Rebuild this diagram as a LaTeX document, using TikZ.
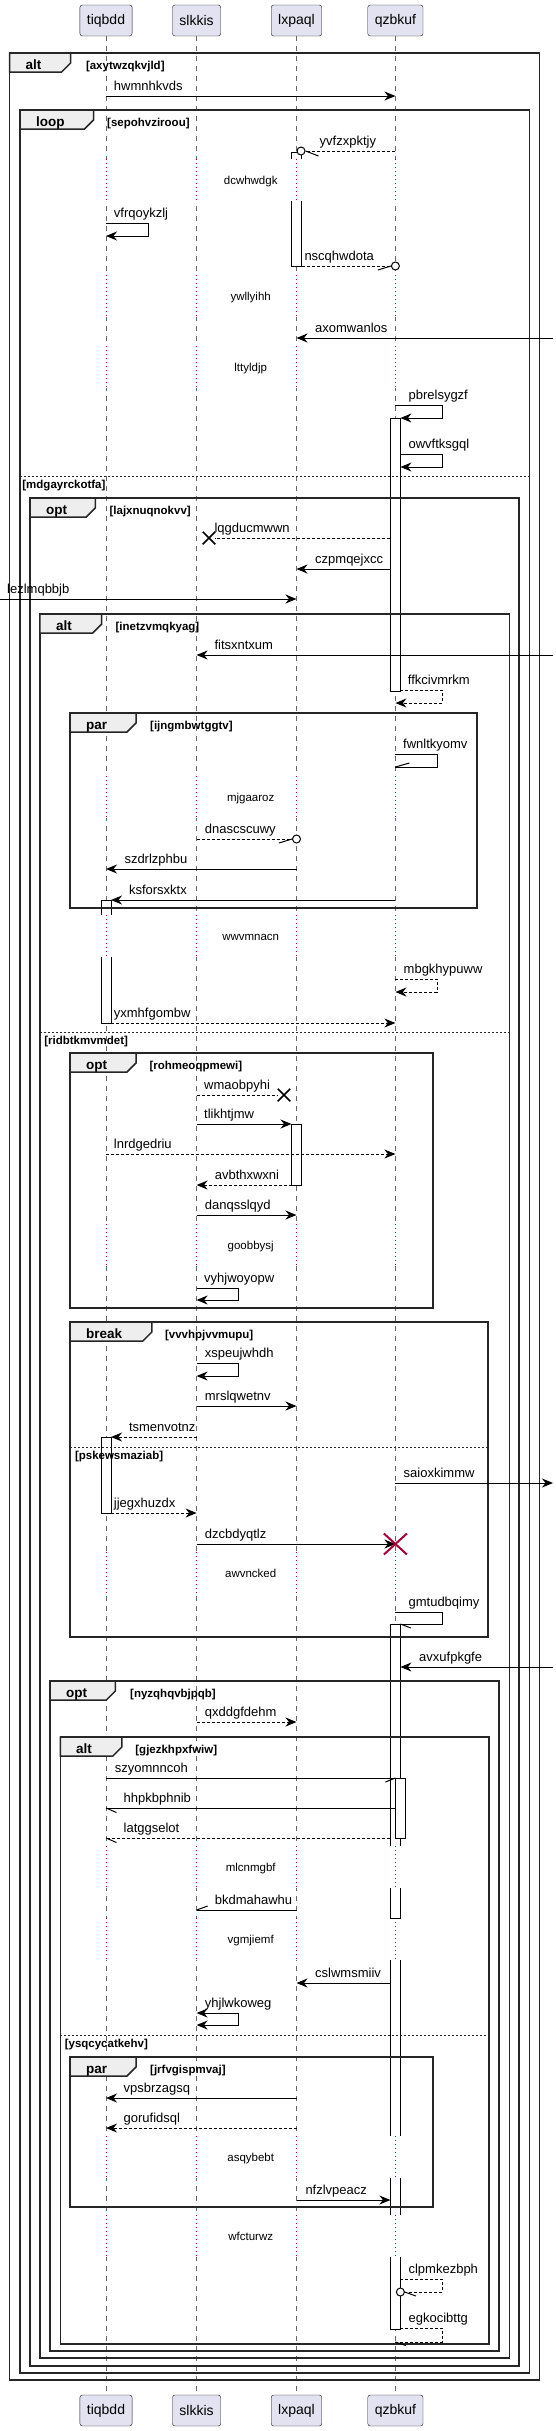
\documentclass[tikz,border=0pt]{standalone}
\usepackage{fontspec}
\setmainfont{Liberation Sans}
\usetikzlibrary{arrows.meta,shapes.misc}
\definecolor{partfill}{HTML}{E2E2F0}
\definecolor{partdraw}{HTML}{181818}
\definecolor{tabfill}{HTML}{EEEEEE}
\definecolor{delayred}{HTML}{A80036}
\tikzset{
  >={Stealth[length=11pt,width=9pt,inset=3.5pt]},
  part/.style={draw=partdraw, fill=partfill, rounded corners=2.5, minimum height=31, inner xsep=7, font=\fontsize{14}{16}\selectfont},
  life/.style={draw=black!60, line width=0.7, dash pattern=on 5pt off 5pt},
  pause/.style={draw=delayred, line width=1, dash pattern=on 1pt off 3pt},
  grp/.style={draw=black!85, line width=1.5},
  tab/.style={draw=black!85, line width=1.5, fill=tabfill},
  elseline/.style={draw=black!85, line width=0.8, dash pattern=on 2pt off 2pt},
  tabtext/.style={anchor=base west, inner sep=0, font=\bfseries\fontsize{13.5}{15}\selectfont},
  guard/.style={anchor=base west, inner sep=0, font=\bfseries\fontsize{11.5}{13}\selectfont},
  lbl/.style={anchor=base west, inner sep=0, font=\fontsize{13}{15}\selectfont},
  pausetext/.style={anchor=base, inner sep=0, font=\fontsize{11.5}{13}\selectfont},
  actbar/.style={draw=black, line width=1, fill=white},
  plain/.style={draw=black, line width=1},
  rline/.style={plain, dash pattern=on 3pt off 2pt},
  msg/.style={plain, ->},
  rmsg/.style={rline, ->},
  bimsg/.style={plain, <->},
  circ/.style={circle, draw=black, line width=1, fill=white, minimum size=8, inner sep=0},
  xmark/.style={cross out, draw=black, line width=1.5, minimum size=11, inner sep=0},
  kill/.style={cross out, draw=delayred, line width=2, minimum width=21, minimum height=19, inner sep=0}
}
\begin{document}
\begin{tikzpicture}[x=1pt,y=-1pt]
\useasboundingbox (0,0) rectangle (555,2431);

% participants
\node[part] (tA) at (106,20.5) {tiqbdd};
\node[part] (tB) at (196.6,20.5) {slkkis};
\node[part] (tC) at (296.5,20.5) {lxpaql};
\node[part] (tD) at (395.4,20.5) {qzbkuf};
\node[part] (bA) at (106,2410.5) {tiqbdd};
\node[part] (bB) at (196.6,2410.5) {slkkis};
\node[part] (bC) at (296.5,2410.5) {lxpaql};
\node[part] (bD) at (395.4,2410.5) {qzbkuf};

\coordinate (edgeL) at (0,0);
\coordinate (edgeR) at (553,0);
\coordinate (actAr) at (111,0);
\coordinate (actCl) at (291.5,0);
\coordinate (actCr) at (301.5,0);
\coordinate (actDl) at (390.4,0);
\coordinate (actDr) at (400.4,0);

\draw[life] (tA) -- (bA);
\draw[life] (tB) -- (bB);
\draw[life] (tC) -- (bC);
\draw[life] (tD) -- (bD);

% delays
\foreach \ya/\yb in {159/201,275/317,346/388,776/818,915/957,1224/1266,1552/1594,1846/1888,1918/1960,2136/2178,2215/2257}
  \foreach \p in {tA,tB,tC,tD}{
    \draw[white, line width=2] (\p |- 0,\ya) -- (\p |- 0,\yb);
    \draw[pause] (\p |- 0,\ya) -- (\p |- 0,\yb);
  }
\node[pausetext] (d1) at (250.7,184.5) {dcwhwdgk};
\node[pausetext] (d2) at (250.7,300) {ywllyihh};
\node[pausetext] (d3) at (250.7,371.5) {lttyldjp};
\node[pausetext] (d4) at (250.7,801) {mjgaaroz};
\node[pausetext] (d5) at (250.7,940.5) {wwvmnacn};
\node[pausetext] (d6) at (250.7,1249) {goobbysj};
\node[pausetext] (d7) at (250.7,1577) {awvncked};
\node[pausetext] (d8) at (250.7,1871.5) {mlcnmgbf};
\node[pausetext] (d9) at (250.7,1943) {vgmjiemf};
\node[pausetext] (d10) at (250.7,2161.5) {asqybebt};
\node[pausetext] (d11) at (250.7,2240.5) {wfcturwz};

% activations
\draw[actbar] (291.5,159) -- (291.5,152) -- (301.5,152) -- (301.5,159);
\draw[actbar] (291.5,201) -- (291.5,266) -- (301.5,266) -- (301.5,201);
\draw[actbar] (390.4,418) rectangle (400.4,691);
\draw[actbar] (101,915) -- (101,900) -- (111,900) -- (111,915);
\draw[actbar] (101,957) -- (101,1023) -- (111,1023) -- (111,957);
\draw[actbar] (291.5,1124) rectangle (301.5,1185);
\draw[actbar] (101,1437) rectangle (111,1513);
\draw[actbar] (390.4,1846) -- (390.4,1624) -- (400.4,1624) -- (400.4,1846);
\draw[actbar] (390.4,1888) rectangle (400.4,1918);
\draw[draw=none, fill=white] (390.4,1888) rectangle (400.4,1918);
\draw[plain] (390.4,1888) -- (390.4,1918) (400.4,1888) -- (400.4,1918);
\draw[draw=none, fill=white] (390.4,1960) rectangle (400.4,2136);
\draw[plain] (390.4,1960) -- (390.4,2136) (400.4,1960) -- (400.4,2136);
\draw[draw=none, fill=white] (390.4,2178) rectangle (400.4,2215);
\draw[plain] (390.4,2178) -- (390.4,2215) (400.4,2178) -- (400.4,2215);
\draw[actbar] (390.4,2257) -- (390.4,2329) -- (400.4,2329) -- (400.4,2257);
\draw[actbar] (395.4,1778) rectangle (405.4,1838);

% frames
\draw[grp] (9.5,53) rectangle (539.4,2380);
\draw[tab] (9.5,53) -- (70.6,53) -- (70.6,63) -- (61.6,72) -- (9.5,72) -- cycle;
\node[tabtext] (f1) at (25.5,69) {alt};
\node[guard] (g1) at (85.8,69) {[axytwzqkvjld]};

\draw[grp] (20.1,110) rectangle (529.5,2373);
\draw[tab] (20.1,110) -- (93.5,110) -- (93.5,120) -- (84.5,129) -- (20.1,129) -- cycle;
\node[tabtext] (f2) at (36,126) {loop};
\node[guard] (g2) at (107,126) {[sepohvziroou]};
\draw[elseline] (20.1,476) -- (529.5,476);
\node[guard] (e2) at (22.2,488) {[mdgayrckotfa]};

\draw[grp] (30,498) rectangle (519,2366);
\draw[tab] (30,498) -- (95.3,498) -- (95.3,508) -- (86.3,517) -- (30,517) -- cycle;
\node[tabtext] (f3) at (46,514) {opt};
\node[guard] (g3) at (109.4,514) {[lajxnuqnokvv]};

\draw[grp] (39.9,614) rectangle (509.4,2358);
\draw[tab] (39.9,614) -- (101.7,614) -- (101.7,624) -- (92.7,633) -- (39.9,633) -- cycle;
\node[tabtext] (f4) at (56,630) {alt};
\node[guard] (g4) at (115.4,630) {[inetzvmqkyag]};
\draw[elseline] (39.9,1032) -- (509.4,1032);
\node[guard] (e4) at (44.1,1044) {[ridbtkmvmdet]};

\draw[grp] (70.2,713) rectangle (477,908);
\draw[tab] (70.2,713) -- (136,713) -- (136,723) -- (127,732) -- (70.2,732) -- cycle;
\node[tabtext] (f5) at (86,729) {par};
\node[guard] (g5) at (150,729) {[ijngmbwtggtv]};

\draw[grp] (70.2,1053) rectangle (433,1308);
\draw[tab] (70.2,1053) -- (136,1053) -- (136,1063) -- (127,1072) -- (70.2,1072) -- cycle;
\node[tabtext] (f6) at (86,1069) {opt};
\node[guard] (g6) at (149.3,1069) {[rohmeoqpmewi]};

\draw[grp] (70.2,1322) rectangle (488,1637);
\draw[tab] (70.2,1322) -- (151.8,1322) -- (151.8,1332) -- (142.8,1341) -- (70.2,1341) -- cycle;
\node[tabtext] (f7) at (86,1338) {break};
\node[guard] (g7) at (164.9,1338) {[vvvhpjvvmupu]};
\draw[elseline] (70.2,1447) -- (488,1447);
\node[guard] (e7) at (74.8,1459) {[pskewsmaziab]};

\draw[grp] (50.1,1681) rectangle (498.8,2351);
\draw[tab] (50.1,1681) -- (115.4,1681) -- (115.4,1691) -- (106.4,1700) -- (50.1,1700) -- cycle;
\node[tabtext] (f8) at (66,1697) {opt};
\node[guard] (g8) at (130,1697) {[nyzqhqvbjpqb]};

\draw[grp] (60.4,1737) rectangle (489,2344);
\draw[tab] (60.4,1737) -- (121.8,1737) -- (121.8,1747) -- (112.8,1756) -- (60.4,1756) -- cycle;
\node[tabtext] (f9) at (76,1753) {alt};
\node[guard] (g9) at (135.2,1753) {[gjezkhpxfwiw]};
\draw[elseline] (60.4,2035) -- (489,2035);
\node[guard] (e9) at (64.6,2047) {[ysqcycatkehv]};

\draw[grp] (70.2,2057) rectangle (433,2207);
\draw[tab] (70.2,2057) -- (136,2057) -- (136,2067) -- (127,2076) -- (70.2,2076) -- cycle;
\node[tabtext] (f10) at (86,2073) {par};
\node[guard] (g10) at (150,2073) {[jrfvgispmvaj]};

% messages
\draw[msg] (tA |- 0,96) -- (tD |- 0,96);
\node[lbl] (m1) at (113.7,90) {hwmnhkvds};

\node[circ] (o1) at (301,151) {};
\draw[rline] (tD |- 0,151) -- (o1);
\draw[plain] (o1.east) -- ++(13,5);
\node[lbl] (m2) at (319.5,145) {yvfzxpktjy};

\draw[msg] (tA |- 0,223) -- ++(42,0) |- (tA |- 0,236);
\node[lbl] (m3) at (113.7,217) {vfrqoykzlj};

\node[circ] (o2) at (tD |- 0,266) {};
\draw[rline] (actCr |- 0,266) -- (o2);
\draw[plain] (o2.west) -- ++(-13,4);
\node[lbl] (m4) at (304.3,260) {nscqhwdota};

\draw[msg] (edgeR |- 0,338) -- (tC |- 0,338);
\node[lbl] (m6) at (315,332) {axomwanlos};

\draw[msg] (tD |- 0,405) -- ++(46.6,0) |- (actDr |- 0,418);
\node[lbl] (m8) at (408.4,399) {pbrelsygzf};

\draw[msg] (actDr |- 0,454) -- ++(41.6,0) |- (actDr |- 0,467);
\node[lbl] (m9) at (408.4,448) {owvftksgql};

\node[xmark] (x1) at (209,538) {};
\draw[rline] (actDl |- 0,538) -- (x1);
\node[lbl] (m12) at (214.3,532) {lqgducmwwn};

\draw[msg] (actDl |- 0,569) -- (tC |- 0,569);
\node[lbl] (m13) at (315,563) {czpmqejxcc};

\draw[msg] (edgeL |- 0,599) -- (tC |- 0,599);
\node[lbl] (m14) at (7,593) {lezlmqbbjb};

\draw[msg] (edgeR |- 0,655) -- (tB |- 0,655);
\node[lbl] (m16) at (214.3,649) {fitsxntxum};

\draw[rmsg] (actDr |- 0,690) -- ++(41.6,0) |- (tD |- 0,703);
\node[lbl] (m17) at (407.7,684) {ffkcivmrkm};

\draw[plain] (tD |- 0,754) -- ++(42,0) |- (tD |- 0,767);
\draw[plain] (tD |- 0,767) -- ++(14,-4);
\node[lbl] (m19) at (403,748) {fwnltkyomv};

\node[circ] (o3) at (tC |- 0,839) {};
\draw[rline] (tB |- 0,839) -- (o3);
\draw[plain] (o3.west) -- ++(-13,4);
\node[lbl] (m21) at (204.7,833) {dnascscuwy};

\draw[msg] (tC |- 0,869) -- (tA |- 0,869);
\node[lbl] (m22) at (124.3,863) {szdrlzphbu};

\draw[msg] (tD |- 0,900) -- (actAr |- 0,900);
\node[lbl] (m23) at (128.8,894) {ksforsxktx};

\draw[rmsg] (tD |- 0,979) -- ++(42,0) |- (tD |- 0,992);
\node[lbl] (m26) at (403.5,973) {mbgkhypuww};

\draw[rmsg] (actAr |- 0,1023) -- (tD |- 0,1023);
\node[lbl] (m27) at (113.7,1017) {yxmhfgombw};

\node[xmark] (x2) at (284,1095) {};
\draw[rline] (tB |- 0,1095) -- (x2);
\node[lbl] (m30) at (204,1089) {wmaobpyhi};

\draw[msg] (tB |- 0,1124) -- (actCl |- 0,1124);
\node[lbl] (m31) at (204,1118) {tlikhtjmw};

\draw[rmsg] (tA |- 0,1154) -- (tD |- 0,1154);
\node[lbl] (m32) at (113.7,1148) {lnrdgedriu};

\draw[rmsg] (actCl |- 0,1185) -- (tB |- 0,1185);
\node[lbl] (m33) at (214.6,1179) {avbthxwxni};

\draw[msg] (tB |- 0,1215) -- (tC |- 0,1215);
\node[lbl] (m34) at (204.7,1209) {danqsslqyd};

\draw[msg] (tB |- 0,1288) -- ++(42,0) |- (tB |- 0,1300);
\node[lbl] (m36) at (204,1282) {vyhjwoyopw};

\draw[msg] (tB |- 0,1363) -- ++(42,0) |- (tB |- 0,1376);
\node[lbl] (m39) at (204.7,1357) {xspeujwhdh};

\draw[msg] (tB |- 0,1406) -- (tC |- 0,1406);
\node[lbl] (m40) at (204.7,1400) {mrslqwetnv};

\draw[rmsg] (tB |- 0,1437) -- (actAr |- 0,1437);
\node[lbl] (m41) at (128.8,1431) {tsmenvotnz};

\draw[msg] (tD |- 0,1483) -- (edgeR |- 0,1483);
\node[lbl] (m43) at (403.5,1477) {saioxkimmw};

\draw[rmsg] (actAr |- 0,1513) -- (tB |- 0,1513);
\node[lbl] (m44) at (113.7,1507) {jjegxhuzdx};

\draw[msg] (tB |- 0,1544) -- (tD |- 0,1544);
\node[kill] (x3) at (tD |- 0,1544) {};
\node[lbl] (m45) at (204.7,1538) {dzcbdyqtlz};

\draw[plain] (tD |- 0,1612) -- ++(46.6,0) |- (actDr |- 0,1624);
\draw[plain] (actDr |- 0,1624) -- ++(10.5,4);
\node[lbl] (m47) at (408.4,1606) {gmtudbqimy};

\draw[msg] (edgeR |- 0,1667) -- (actDr |- 0,1667);
\node[lbl] (m49) at (419,1661) {avxufpkgfe};

\draw[rmsg] (tB |- 0,1722) -- (tC |- 0,1722);
\node[lbl] (m51) at (204.7,1716) {qxddgfdehm};

\draw[plain] (tA |- 0,1778) -- (tD |- 0,1778);
\draw[plain] (tD |- 0,1778) -- ++(-10,4);
\node[lbl] (m53) at (114.7,1772) {szyomnncoh};

\draw[plain] (tD |- 0,1808) -- (tA |- 0,1808);
\draw[plain] (tA |- 0,1808) -- ++(10.5,4.5);
\node[lbl] (m54) at (123.5,1802) {hhpkbphnib};

\draw[rline] (actDl |- 0,1838) -- (tA |- 0,1838);
\draw[plain] (tA |- 0,1838) -- ++(10.5,4.5);
\node[lbl] (m55) at (123.5,1832) {latggselot};

\draw[plain] (tC |- 0,1910) -- (tB |- 0,1910);
\draw[plain] (tB |- 0,1910) -- ++(11,-4);
\node[lbl] (m57) at (214.6,1904) {bkdmahawhu};

\draw[msg] (actDl |- 0,1983) -- (tC |- 0,1983);
\node[lbl] (m59) at (315,1977) {cslwmsmiiv};

\draw[bimsg] (tB |- 0,2013) -- ++(42,0) |- (tB |- 0,2025);
\node[lbl] (m60) at (204.7,2007) {yhjlwkoweg};

\draw[msg] (tC |- 0,2098) -- (tA |- 0,2098);
\node[lbl] (m63) at (123.5,2092) {vpsbrzagsq};

\draw[rmsg] (tC |- 0,2128) -- (tA |- 0,2128);
\node[lbl] (m64) at (123.5,2122) {gorufidsql};

\draw[msg] (tC |- 0,2200) -- (actDl |- 0,2200);
\node[lbl] (m66) at (305.3,2194) {nfzlvpeacz};

\node[circ] (o4) at (actDr |- 0,2292) {};
\draw[rline] (actDr |- 0,2279) -- ++(41.6,0) |- (o4);
\draw[plain] (o4.east) -- ++(11,4);
\node[lbl] (m69) at (408.4,2273) {clpmkezbph};

\draw[rline] (actDr |- 0,2328) -- ++(41.6,0) |- (tD |- 0,2342);
\draw[plain] (tD |- 0,2342) -- ++(10.5,3.5);
\node[lbl] (m70) at (408.4,2322) {egkocibttg};
\end{tikzpicture}
\end{document}
